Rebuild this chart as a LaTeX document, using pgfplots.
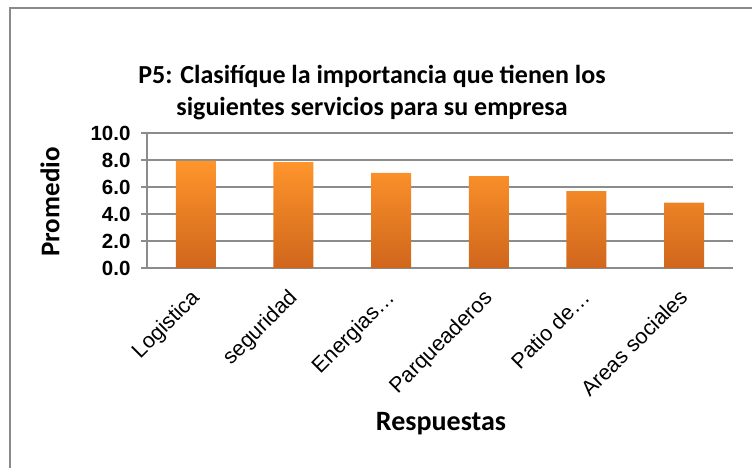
\documentclass[border=0pt]{standalone}
\usepackage{pgfplots}
\pgfplotsset{compat=1.18}
\usepackage{fontspec}
\setmainfont{Liberation Sans}
\newfontfamily\calibri{Carlito}
\definecolor{gridc}{HTML}{8C8C8C}
\definecolor{framec}{HTML}{8A8A8A}
\definecolor{bartop}{HTML}{FF952B}
\definecolor{barbot}{HTML}{CF661C}
\begin{document}
\begin{tikzpicture}[x=1pt,y=1pt]
\useasboundingbox (-147,-199) rectangle (605,268);
\draw[color=framec, line width=1.8pt] (-137,-210) -- (-137,260) -- (620,260);
\begin{axis}[
  at={(0,0)}, anchor=south west,
  scale only axis, width=586pt, height=135pt,
  ymin=0, ymax=10, ytick={0,2,4,6,8,10},
  xmin=-0.5, xmax=5.5,
  xtick=data,
  xticklabels={Logistica,seguridad,Energias\ldots,Parqueaderos,Patio de\ldots,Areas sociales},
  axis x line*=bottom, axis y line*=left,
  axis line style={draw=gridc, line width=1.5pt, -},
  ymajorgrids, grid style={draw=gridc, line width=1.5pt},
  major tick length=6pt,
  xtick style={draw=none},
  ytick style={draw=gridc, line width=1.5pt},
  tick align=outside,
  yticklabel style={font=\fontsize{20.5}{22}\selectfont\bfseries, xshift=-7pt},
  /pgf/number format/.cd, fixed, fixed zerofill, precision=1, assume math mode=true,
  /pgfplots/.cd,
  xticklabel style={xshift=-6.5pt, yshift=-9pt, rotate=45, anchor=north east, font=\fontsize{21.5}{23}\selectfont},
  ybar, bar width=40pt,
  clip=false,
]
\addplot[draw=none, top color=bartop, bottom color=barbot] coordinates {
 (0,7.93) (1,7.85) (2,7.04) (3,6.81) (4,5.70) (5,4.84)};
\end{axis}
\node[font=\calibri\bfseries\fontsize{26}{32}\selectfont, align=center] at (225,175) {P5: Clasifíque la importancia que tienen los\\siguientes servicios para su empresa};
\node[font=\calibri\bfseries\fontsize{27}{32}\selectfont, rotate=90] at (-97,66) {Promedio};
\node[font=\calibri\bfseries\fontsize{28}{32}\selectfont] at (294,-156) {Respuestas};
\end{tikzpicture}
\end{document}
